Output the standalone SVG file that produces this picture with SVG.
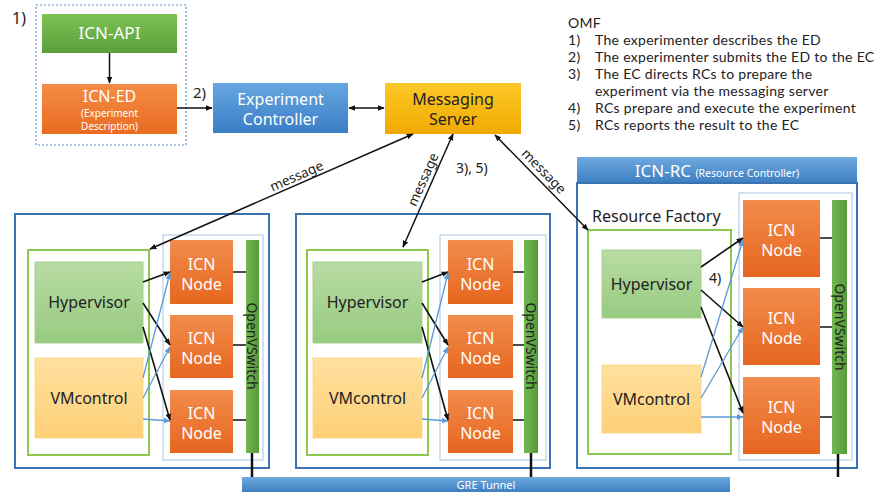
<svg xmlns="http://www.w3.org/2000/svg" width="881" height="492" viewBox="0 0 881 492">
<defs>
<linearGradient id="gApi" x1="0" y1="0" x2="0" y2="1"><stop offset="0" stop-color="#7cc254"/><stop offset="1" stop-color="#5a9f3a"/></linearGradient>
<linearGradient id="gEd" x1="0" y1="0" x2="0" y2="1"><stop offset="0" stop-color="#f58c45"/><stop offset="1" stop-color="#e86b21"/></linearGradient>
<linearGradient id="gEc" x1="0" y1="0" x2="0" y2="1"><stop offset="0" stop-color="#67a6e0"/><stop offset="1" stop-color="#3a7ec5"/></linearGradient>
<linearGradient id="gMs" x1="0" y1="0" x2="0" y2="1"><stop offset="0" stop-color="#fcc827"/><stop offset="1" stop-color="#f0aa00"/></linearGradient>
<linearGradient id="gHv" x1="0" y1="0" x2="0" y2="1"><stop offset="0" stop-color="#b8dca4"/><stop offset="1" stop-color="#98ca80"/></linearGradient>
<linearGradient id="gVm" x1="0" y1="0" x2="0" y2="1"><stop offset="0" stop-color="#ffe09e"/><stop offset="1" stop-color="#fdd078"/></linearGradient>
<linearGradient id="gNode" x1="0" y1="0" x2="0" y2="1"><stop offset="0" stop-color="#f28c4c"/><stop offset="1" stop-color="#e6661f"/></linearGradient>
<linearGradient id="gSw" x1="0" y1="0" x2="1" y2="0"><stop offset="0" stop-color="#72b852"/><stop offset="1" stop-color="#559a39"/></linearGradient>
<linearGradient id="gBlue" x1="0" y1="0" x2="0" y2="1"><stop offset="0" stop-color="#6ea9de"/><stop offset="1" stop-color="#3d7fc2"/></linearGradient>
<marker id="ak" viewBox="0 0 10 10" refX="9" refY="5" markerWidth="7" markerHeight="7" orient="auto-start-reverse" markerUnits="userSpaceOnUse"><path d="M0,1 L10,5 L0,9 z" fill="#111"/></marker>
<marker id="ab" viewBox="0 0 10 10" refX="9" refY="5" markerWidth="7" markerHeight="7" orient="auto-start-reverse" markerUnits="userSpaceOnUse"><path d="M0,1 L10,5 L0,9 z" fill="#5b9bd5"/></marker>
</defs>
<style>
text{font-family:"Noto Sans","Open Sans","Liberation Sans",sans-serif;}
.w{fill:#fff;}
.d{fill:#222;}
.c{text-anchor:middle;}
.outer{fill:#fff;stroke:#3a73b2;stroke-width:2;}
.gbox{fill:#fff;stroke:#8cc84b;stroke-width:2;}
.nbox{fill:#fff;stroke:#a8c3e2;stroke-width:1;}
.node{fill:url(#gNode);}
.sw{fill:url(#gSw);}
.hv{fill:url(#gHv);stroke:#a6d08e;stroke-width:1;}
.vm{fill:url(#gVm);stroke:#fbd98a;stroke-width:1;}
.bl{stroke:#111;stroke-width:1.6;fill:none;}
.bu{stroke:#5b9bd5;stroke-width:1.3;fill:none;}
.tk{stroke:#111;stroke-width:1.5;fill:none;}
.tb{stroke:#111;stroke-width:2.5;fill:none;}
.ntxt{font-size:16px;fill:#fff;text-anchor:middle;}
text.omf{font-family:Lato,"Noto Sans",sans-serif;font-size:14px;letter-spacing:0.3px;fill:#222;}
.msg{font-size:13.5px;fill:#222;text-anchor:middle;}
</style>

<!-- top-left ED group -->
<g id="ed-group">
<rect x="36" y="5" width="150" height="140" fill="none" stroke="#5b8fc9" stroke-width="1.2" stroke-dasharray="2,2"/>
<text x="12" y="24" font-size="16" class="d">1)</text>
</g>
<g id="icn-api">
<rect x="42" y="14" width="135" height="39" fill="url(#gApi)"/>
<text x="109.5" y="39" font-size="17" class="w c">ICN-API</text>
</g>
<g id="icn-ed">
<rect x="42" y="84" width="135" height="50" fill="url(#gEd)"/>
<text x="109.5" y="102" font-size="16" class="w c">ICN-ED</text>
<text x="109.5" y="117" font-size="10" class="w c">(Experiment</text>
<text x="109.5" y="130" font-size="10" class="w c">Description)</text>
</g>
<g id="exp-controller">
<rect x="213" y="83" width="135" height="50" fill="url(#gEc)"/>
<text x="280.5" y="105" font-size="16" class="w c">Experiment</text>
<text x="280.5" y="125" font-size="16" class="w c">Controller</text>
</g>
<g id="messaging-server">
<rect x="385" y="83" width="136" height="51" fill="url(#gMs)"/>
<text x="453" y="105" font-size="16" class="d c">Messaging</text>
<text x="453" y="125" font-size="16" class="d c">Server</text>
</g>

<!-- OMF legend -->
<g id="omf-legend">
<text x="568" y="28" class="omf">OMF</text>
<text x="568" y="45" class="omf">1)</text><text x="595" y="45" class="omf">The experimenter describes the ED</text>
<text x="568" y="62" class="omf">2)</text><text x="595" y="62" class="omf">The experimenter submits the ED to the EC</text>
<text x="568" y="79" class="omf">3)</text><text x="595" y="79" class="omf">The EC directs RCs to prepare the</text>
<text x="595" y="96" class="omf">experiment via the messaging server</text>
<text x="568" y="113" class="omf">4)</text><text x="595" y="113" class="omf">RCs prepare and execute the experiment</text>
<text x="568" y="130" class="omf">5)</text><text x="595" y="130" class="omf">RCs reports the result to the EC</text>
</g>

<!-- RC box 1 -->
<g id="rc1">
<rect class="outer" x="15" y="214" width="254" height="254"/>
<rect class="gbox" x="28" y="250" width="121" height="205"/>
<rect class="hv" x="35" y="262" width="108" height="81"/>
<text x="89" y="308" font-size="16" class="d c">Hypervisor</text>
<rect class="vm" x="35" y="358" width="108" height="80"/>
<text x="89" y="404" font-size="16" class="d c">VMcontrol</text>
<rect class="nbox" x="163" y="235" width="100" height="225"/>
<rect class="node" x="170" y="240" width="63" height="64"/>
<text x="201.5" y="270" class="ntxt">ICN</text><text x="201.5" y="290" class="ntxt">Node</text>
<rect class="node" x="170" y="315" width="63" height="63"/>
<text x="201.5" y="344" class="ntxt">ICN</text><text x="201.5" y="364" class="ntxt">Node</text>
<rect class="node" x="170" y="390" width="63" height="63"/>
<text x="201.5" y="419" class="ntxt">ICN</text><text x="201.5" y="439" class="ntxt">Node</text>
<rect class="sw" x="246" y="240" width="13" height="213"/>
<text transform="translate(247,346) rotate(90)" font-size="14" class="d c">OpenVSwitch</text>
</g>

<!-- RC box 2 -->
<g id="rc2">
<rect class="outer" x="296" y="214" width="254" height="254"/>
<rect class="gbox" x="307" y="250" width="121" height="205"/>
<rect class="hv" x="313" y="262" width="109" height="81"/>
<text x="367.5" y="308" font-size="16" class="d c">Hypervisor</text>
<rect class="vm" x="313" y="358" width="109" height="80"/>
<text x="367.5" y="404" font-size="16" class="d c">VMcontrol</text>
<rect class="nbox" x="440" y="235" width="106" height="225"/>
<rect class="node" x="448" y="240" width="65" height="64"/>
<text x="480.5" y="270" class="ntxt">ICN</text><text x="480.5" y="290" class="ntxt">Node</text>
<rect class="node" x="448" y="315" width="65" height="63"/>
<text x="480.5" y="344" class="ntxt">ICN</text><text x="480.5" y="364" class="ntxt">Node</text>
<rect class="node" x="448" y="390" width="65" height="63"/>
<text x="480.5" y="419" class="ntxt">ICN</text><text x="480.5" y="439" class="ntxt">Node</text>
<rect class="sw" x="524" y="240" width="14" height="213"/>
<text transform="translate(526,346) rotate(90)" font-size="14" class="d c">OpenVSwitch</text>
</g>

<!-- RC box 3 (ICN-RC) -->
<g id="rc3">
<rect x="577" y="157" width="280" height="26" fill="url(#gBlue)"/>
<text x="717" y="177" class="w c"><tspan font-size="17">ICN-RC </tspan><tspan font-size="10.5">(Resource Controller)</tspan></text>
<rect class="outer" x="577" y="183" width="280" height="285"/>
<text x="592" y="222" font-size="16" class="d">Resource Factory</text>
<rect class="gbox" x="588" y="230" width="143" height="224" stroke-width="1.5"/>
<rect class="hv" x="602" y="250" width="99" height="68"/>
<text x="651.5" y="290" font-size="16" class="d c">Hypervisor</text>
<rect class="vm" x="602" y="365" width="99" height="68"/>
<text x="651.5" y="405" font-size="16" class="d c">VMcontrol</text>
<text x="709" y="283" font-size="14" class="d">4)</text>
<rect class="nbox" x="739" y="193" width="113" height="267"/>
<rect class="node" x="743" y="200" width="77" height="77"/>
<text x="781.5" y="236" class="ntxt">ICN</text><text x="781.5" y="256" class="ntxt">Node</text>
<rect class="node" x="743" y="288" width="77" height="77"/>
<text x="781.5" y="324" class="ntxt">ICN</text><text x="781.5" y="344" class="ntxt">Node</text>
<rect class="node" x="743" y="377" width="77" height="77"/>
<text x="781.5" y="413" class="ntxt">ICN</text><text x="781.5" y="433" class="ntxt">Node</text>
<rect class="sw" x="832" y="200" width="15" height="254"/>
<text transform="translate(835,327) rotate(90)" font-size="14" class="d c">OpenVSwitch</text>
</g>

<!-- GRE tunnel -->
<g id="gre-tunnel">
<rect x="242" y="477" width="488" height="15" fill="url(#gBlue)"/>
<text x="486" y="489" font-size="11" class="w c">GRE Tunnel</text>
</g>

<!-- connectors -->
<g id="connectors">
<line class="tk" x1="109.5" y1="53" x2="109.5" y2="83" marker-end="url(#ak)"/>
<line class="tk" x1="177" y1="108" x2="212" y2="108" marker-end="url(#ak)"/>
<text x="193" y="98" font-size="15" class="d">2)</text>
<line class="tk" x1="349" y1="108" x2="384" y2="108" marker-start="url(#ak)" marker-end="url(#ak)"/>

<!-- message arrows -->
<line class="tk" x1="150" y1="249" x2="413" y2="134" marker-start="url(#ak)" marker-end="url(#ak)"/>
<text class="msg" transform="translate(300,184) rotate(-23.6)" y="-4">message</text>
<line class="tk" x1="403" y1="247" x2="453" y2="134" marker-start="url(#ak)" marker-end="url(#ak)"/>
<text class="msg" transform="translate(431,183) rotate(-66)" y="-4">message</text>
<text x="456" y="173" font-size="14" class="d">3), 5)</text>
<line class="tk" x1="495" y1="135" x2="588" y2="230" marker-start="url(#ak)" marker-end="url(#ak)"/>
<text class="msg" transform="translate(537,178) rotate(45.6)" y="-5">message</text>

<!-- box 1 internal -->
<line class="bl" x1="143" y1="282" x2="170" y2="272" marker-end="url(#ak)"/>
<line class="bl" x1="143" y1="303" x2="170" y2="345" marker-end="url(#ak)"/>
<line class="bl" x1="143" y1="327" x2="170" y2="420" marker-end="url(#ak)"/>
<line class="bu" x1="143" y1="378" x2="170" y2="273" marker-end="url(#ab)"/>
<line class="bu" x1="143" y1="398" x2="170" y2="347" marker-end="url(#ab)"/>
<line class="bu" x1="143" y1="419" x2="170" y2="421" marker-end="url(#ab)"/>
<line class="tk" x1="233" y1="272" x2="246" y2="272"/>
<line class="tk" x1="233" y1="345" x2="246" y2="345"/>
<line class="tk" x1="233" y1="420" x2="246" y2="420"/>
<line class="tb" x1="252" y1="453" x2="252" y2="477"/>

<!-- box 2 internal -->
<line class="bl" x1="422" y1="282" x2="448" y2="272" marker-end="url(#ak)"/>
<line class="bl" x1="422" y1="303" x2="448" y2="345" marker-end="url(#ak)"/>
<line class="bl" x1="422" y1="327" x2="448" y2="420" marker-end="url(#ak)"/>
<line class="bu" x1="422" y1="378" x2="448" y2="273" marker-end="url(#ab)"/>
<line class="bu" x1="422" y1="398" x2="448" y2="347" marker-end="url(#ab)"/>
<line class="bu" x1="422" y1="419" x2="448" y2="421" marker-end="url(#ab)"/>
<line class="tk" x1="513" y1="272" x2="524" y2="272"/>
<line class="tk" x1="513" y1="345" x2="524" y2="345"/>
<line class="tk" x1="513" y1="420" x2="524" y2="420"/>
<line class="tb" x1="531" y1="453" x2="531" y2="477"/>

<!-- box 3 internal -->
<line class="bl" x1="701" y1="267" x2="743" y2="238" marker-end="url(#ak)"/>
<line class="bl" x1="701" y1="290" x2="743" y2="327" marker-end="url(#ak)"/>
<line class="bl" x1="701" y1="307" x2="743" y2="413" marker-end="url(#ak)"/>
<line class="bu" x1="701" y1="377" x2="743" y2="240" marker-end="url(#ab)"/>
<line class="bu" x1="701" y1="398" x2="743" y2="327" marker-end="url(#ab)"/>
<line class="bu" x1="701" y1="417" x2="743" y2="417" marker-end="url(#ab)"/>
<line class="tk" x1="820" y1="238" x2="832" y2="238"/>
<line class="tk" x1="820" y1="327" x2="832" y2="327"/>
<line class="tk" x1="820" y1="417" x2="832" y2="417"/>
<line class="tb" x1="838" y1="454" x2="838" y2="477"/>
</g>
</svg>
